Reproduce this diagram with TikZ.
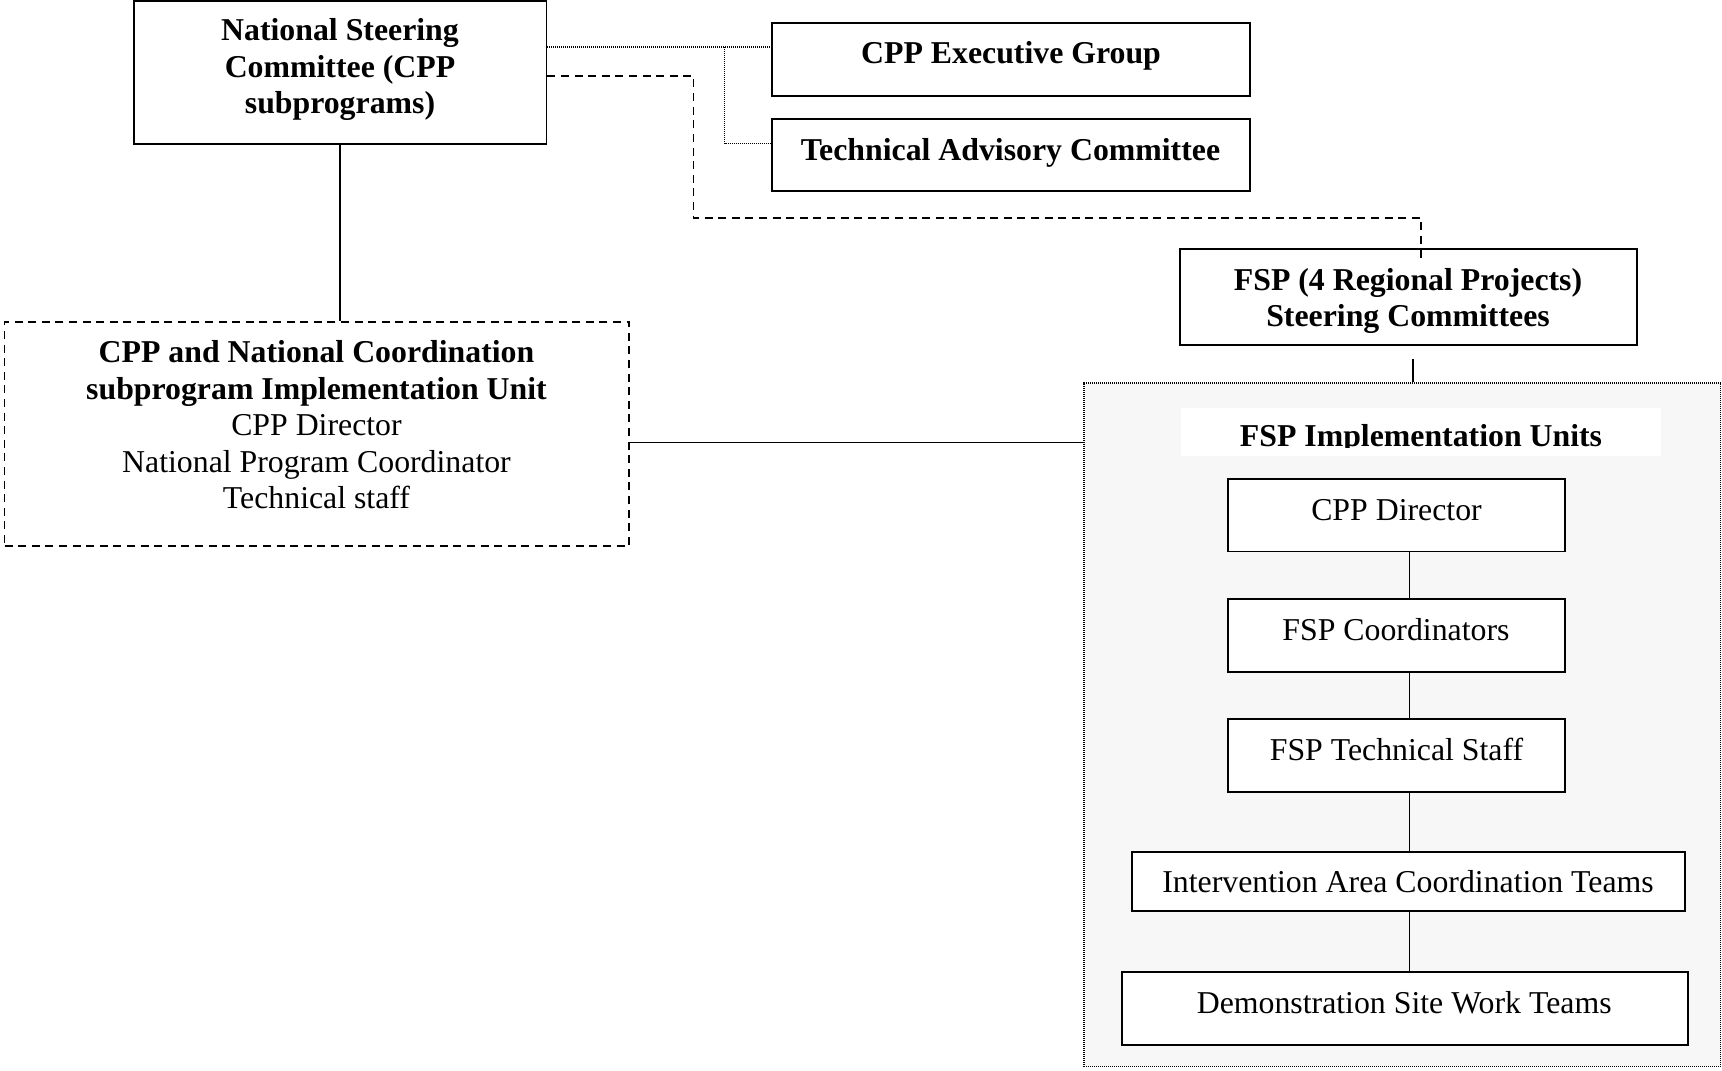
\documentclass[tikz,border=0pt]{standalone}
\usepackage{fontspec}
\setmainfont{Liberation Serif}
\definecolor{panel}{HTML}{F7F7F7}
\begin{document}
\begin{tikzpicture}[x=0.5pt,y=-0.5pt,
  box/.style={draw, line width=0.9pt, fill=white, inner sep=0pt},
  txt/.style={inner sep=0pt, font=\fontsize{15.9pt}{18.25pt}\selectfont, align=center},
  btxt/.style={inner sep=0pt, font=\fontsize{15.9pt}{18.25pt}\selectfont\bfseries, align=center},
  link/.style={line width=0.8pt},
  dotl/.style={line width=0.7pt, dash pattern=on 0.5pt off 0.5pt},
  dashl/.style={line width=0.8pt, dash pattern=on 4pt off 2.8pt}]
\useasboundingbox (0,0) rectangle (1722,1070);

% container
\node[draw, fill=panel, line width=0.7pt, dash pattern=on 0.5pt off 0.5pt, inner sep=0pt,
      minimum width=318.25pt, minimum height=341.85pt] (cont) at (1402.25,724.85) {};
\node[fill=white, inner sep=0pt, minimum width=240pt, minimum height=24pt] (band) at (1421,432) {};
\begin{scope}
  \clip (1181,400) rectangle (1661,447);
  \node[btxt, anchor=base] (bandt) at (1421,446) {FSP Implementation Units};
\end{scope}

% top boxes
\node[box, minimum width=206.25pt, minimum height=71.5pt] (nsc) at (340.25,72.5) {};
\node[btxt] (nsct) at (340,69.5) {National Steering\\Committee (CPP\\subprograms)};
\node[box, minimum width=239pt, minimum height=36.2pt] (ceg) at (1011,59.5) {};
\node[btxt, anchor=base] (cegt) at (1011,63.5) {CPP Executive Group};
\node[box, minimum width=239pt, minimum height=36pt] (tac) at (1011,155.3) {};
\node[btxt, anchor=base] (tact) at (1010.5,160) {Technical Advisory Committee};
\node[box, minimum width=228.35pt, minimum height=48pt] (fspsc) at (1408.35,297.3) {};
\node[btxt] (fspsct) at (1408,301) {FSP (4 Regional Projects)\\Steering Committees};

% left unit
\node[draw, line width=0.8pt, dash pattern=on 4pt off 2.8pt, inner sep=0pt,
      minimum width=312.2pt, minimum height=112.15pt] (left) at (316.8,433.85) {};
\node[txt] (leftt) at (316.5,425) {\textbf{CPP and National Coordination}\\\textbf{subprogram Implementation Unit}\\CPP Director\\National Program Coordinator\\Technical staff};

% inner boxes
\node[box, minimum width=168.5pt, minimum height=36.25pt] (cppd) at (1396.5,515.25) {};
\node[txt, anchor=base] (cppdt) at (1396.5,520) {CPP Director};
\node[box, minimum width=168.5pt, minimum height=36.2pt] (fspc) at (1396.5,635.5) {};
\node[txt, anchor=base] (fspct) at (1396,640) {FSP Coordinators};
\node[box, minimum width=168.5pt, minimum height=36.2pt] (fspt) at (1396.5,755.5) {};
\node[txt, anchor=base] (fsptt) at (1396.5,760) {FSP Technical Staff};
\node[box, minimum width=276.5pt, minimum height=29.35pt] (iact) at (1408.5,881.35) {};
\node[txt, anchor=base] (iactt) at (1408,892) {Intervention Area Coordination Teams};
\node[box, minimum width=283.2pt, minimum height=36.5pt] (dswt) at (1404.8,1008.5) {};
\node[txt, anchor=base] (dswtt) at (1404.2,1013) {Demonstration Site Work Teams};

% connectors
\draw[link] (nsc.south) -- (nsc.south |- left.north);
\draw[link] (left.east |- 0,442.5) -- (cont.west |- 0,442.5);
\coordinate (br) at (724.5,47);
\draw[dotl] (nsc.east |- br) -- (ceg.west |- br);
\draw[dotl] (br) -- (724.5,143.7) -- (tac.west |- 0,143.7);
\coordinate (dend) at (1421,263);
\draw[dashl] (nsc.east |- 0,76) -- (693.5,76) -- (693.5,218) -- (1421,218) -- (dend);
\coordinate (fsub) at (1413,359);
\draw[link] (fsub) -- (cont.north -| fsub);
\draw[link] (cppd.south -| 1409.5,0) -- (fspc.north -| 1409.5,0);
\draw[link] (fspc.south -| 1409.5,0) -- (fspt.north -| 1409.5,0);
\draw[link] (fspt.south -| 1409.5,0) -- (iact.north -| 1409.5,0);
\draw[link] (iact.south -| 1409.5,0) -- (dswt.north -| 1409.5,0);
\end{tikzpicture}
\end{document}
